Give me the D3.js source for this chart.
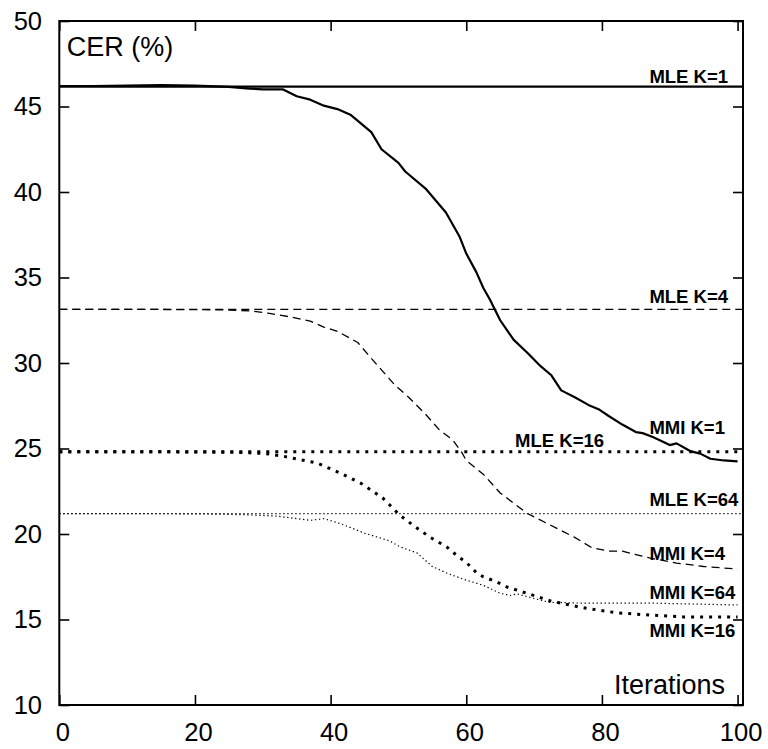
<!DOCTYPE html>
<html>
<head>
<meta charset="utf-8">
<script src="https://cdn.jsdelivr.net/npm/d3@7"></script>
<style>
  html, body { margin: 0; padding: 0; background: #fff; }
  svg { display: block; font-family: "Liberation Sans", Arial, Helvetica, sans-serif; }
</style>
</head>
<body>
<svg id="chart" width="768" height="749"></svg>
<script>
// ---- data ----
const xTicks = [0, 20, 40, 60, 80, 100];
const yTicks = [10, 15, 20, 25, 30, 35, 40, 45, 50];
const xLabel = "Iterations";
const yLabel = "CER (%)";

// MLE baselines (horizontal reference levels)
const mleNames = ["MLE K=1", "MLE K=4", "MLE K=16", "MLE K=64"];
const mleValues = [46.16, 33.14, 24.81, 21.19];

// MMI training curves
const mmiK1X = [0,5,10,15,20,25,28,30,33,35,37,39,41,43,46,47.5,50,51,54,57,59,60,61.5,62.5,63.5,65,67,69,71,72.5,74,76,78,79.5,81,83,85,86,87.5,89,90,91,93,94.5,96,98,100];
const mmiK1Y = [46.2,46.2,46.22,46.25,46.22,46.15,46.05,46.0,46.0,45.6,45.4,45.05,44.85,44.5,43.5,42.5,41.7,41.2,40.2,38.8,37.4,36.4,35.3,34.4,33.7,32.5,31.35,30.6,29.8,29.3,28.4,28.0,27.55,27.3,26.9,26.4,25.96,25.9,25.67,25.4,25.2,25.3,24.85,24.7,24.4,24.3,24.25];

const mmiK4X = [0,10,20,25,28,31,34,37,39,41,44,45.5,47.5,49.5,51.5,54,56,58,59.3,60,62.5,65,67,69,72,76,78.5,81,83,85,87,91,95,100];
const mmiK4Y = [33.14,33.14,33.12,33.1,33.05,32.9,32.7,32.45,32.1,31.85,31.2,30.5,29.6,28.7,28.0,27.0,26.1,25.5,24.8,24.3,23.5,22.4,21.8,21.2,20.6,19.8,19.2,19.0,19.0,18.8,18.6,18.3,18.1,17.95];

const mmiK16X = [0,10,20,25,28,30.5,33,35.5,38,41.5,44.5,47.7,50.2,52.2,54.7,57.1,58.6,60.1,61.6,62.5,64.5,66,70,72.3,77,82,87,92,100];
const mmiK16Y = [24.81,24.81,24.8,24.78,24.75,24.7,24.55,24.35,24.15,23.55,22.96,22.1,21.1,20.5,19.8,19.25,18.75,18.3,17.7,17.5,17.2,16.9,16.4,16.1,15.7,15.4,15.26,15.15,15.15];

const mmiK64X = [0,10,20,25,28,32,35,37,39,41.5,45,48.7,50.2,52.7,55,57.2,60,62.5,64.9,66.4,67.5,69.8,72.3,77,82,87,94,100];
const mmiK64Y = [21.19,21.19,21.18,21.15,21.12,21.05,20.9,20.8,20.9,20.6,20.05,19.6,19.25,18.9,18.1,17.7,17.3,17.0,16.55,16.4,16.5,16.25,16.0,15.96,15.96,15.96,15.9,15.85];

// curve label texts and anchor points (data coordinates)
const labelTexts = ["MLE K=1", "MLE K=4", "MMI K=1", "MLE K=16", "MLE K=64", "MMI K=4", "MMI K=64", "MMI K=16"];
const labelX = [87, 87, 87, 67.2, 87, 87, 87, 87];
const labelY = [46.39, 33.49, 25.86, 25.06, 21.62, 18.48, 16.18, 13.95];

// ---- drawing ----
const svg = d3.select("#chart");
const mLeft = 59.3, mRight = 743, mTop = 21, mBottom = 705;

const x = d3.scaleLinear().domain([0, 100.8]).range([mLeft, mRight]);
const y = d3.scaleLinear().domain([10, 50]).range([mBottom, mTop]);

const styles = {
  solid:  { w: 2.2, dash: null },
  dashed: { w: 1.3, dash: "8,5" },
  bigdot: { w: 3.0, dash: "3,6" },
  fine:   { w: 1.2, dash: "1.3,2.7" }
};
const mleStyle = [styles.solid, styles.dashed, styles.bigdot, styles.fine];

// axes
const tickFont = "25.5px";
const gxb = svg.append("g").attr("transform", `translate(0,${mBottom})`)
  .call(d3.axisBottom(x).tickValues(xTicks).tickSize(-10).tickPadding(18).tickFormat(d3.format("d")));
const gxt = svg.append("g").attr("transform", `translate(0,${mTop})`)
  .call(d3.axisTop(x).tickValues(xTicks).tickSize(-10).tickFormat(""));
const gyl = svg.append("g").attr("transform", `translate(${mLeft},0)`)
  .call(d3.axisLeft(y).tickValues(yTicks).tickSize(-10).tickPadding(17.3).tickFormat(d3.format("d")));
const gyr = svg.append("g").attr("transform", `translate(${mRight},0)`)
  .call(d3.axisRight(y).tickValues(yTicks).tickSize(-10).tickFormat(""));

[gxb, gxt, gyl, gyr].forEach(g => {
  g.select(".domain").remove();
  g.selectAll(".tick line").attr("stroke", "#000").attr("stroke-width", 1.6);
  g.selectAll(".tick text").attr("fill", "#000").style("font-size", tickFont)
    .style("font-family", '"Liberation Sans", Arial, Helvetica, sans-serif');
});
gxb.selectAll(".tick text").attr("dx", 3);

// MLE horizontal lines
mleValues.forEach((v, i) => {
  const st = mleStyle[i];
  svg.append("line")
    .attr("x1", x.range()[0]).attr("x2", x.range()[1])
    .attr("y1", y(v)).attr("y2", y(v))
    .attr("stroke", "#000").attr("stroke-width", st.w)
    .attr("stroke-dasharray", st.dash);
});

// MMI curves
const line = d3.line().x(d => x(d[0])).y(d => y(d[1]));
const curves = [
  [mmiK1X, mmiK1Y, styles.solid],
  [mmiK4X, mmiK4Y, styles.dashed],
  [mmiK16X, mmiK16Y, styles.bigdot],
  [mmiK64X, mmiK64Y, styles.fine]
];
curves.forEach(([xs, ys, st]) => {
  svg.append("path")
    .datum(xs.map((v, i) => [v, ys[i]]))
    .attr("d", line)
    .attr("fill", "none")
    .attr("stroke", "#000")
    .attr("stroke-width", st.w)
    .attr("stroke-linejoin", "round")
    .attr("stroke-dasharray", st.dash);
});

// frame
svg.append("rect")
  .attr("x", mLeft).attr("y", mTop)
  .attr("width", mRight - mLeft).attr("height", mBottom - mTop)
  .attr("fill", "none").attr("stroke", "#000").attr("stroke-width", 2);

// curve labels
labelTexts.forEach((t, i) => {
  svg.append("text")
    .attr("x", x(labelX[i])).attr("y", y(labelY[i]))
    .attr("text-anchor", "start")
    .style("font-size", "18.5px").style("font-weight", "bold")
    .attr("fill", "#000")
    .text(t);
});

// axis titles
svg.append("text").attr("x", 66.7).attr("y", 56)
  .style("font-size", "27px").attr("fill", "#000").text(yLabel);
svg.append("text").attr("x", 725).attr("y", 694.3)
  .attr("text-anchor", "end")
  .style("font-size", "27px").attr("fill", "#000").text(xLabel);
</script>
</body>
</html>
